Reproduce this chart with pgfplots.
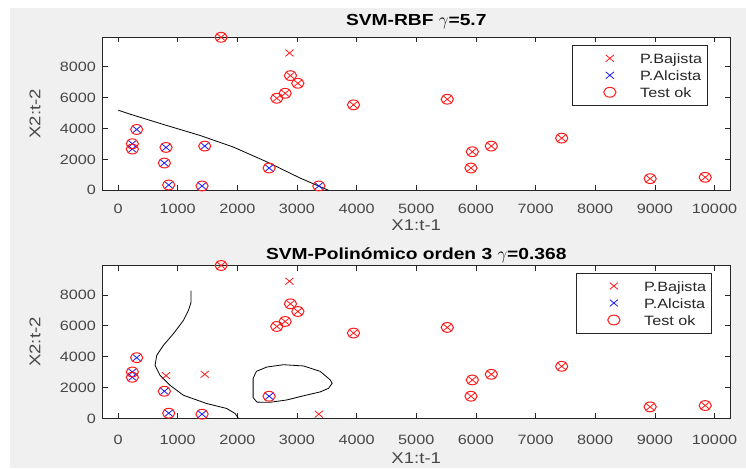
\documentclass[border=0pt]{standalone}
\usepackage{pgfplots}
\pgfplotsset{compat=1.18}
\usepackage{pgfplotstable}
\usepackage{fontspec}
\setmainfont{Liberation Sans}[FakeStretch=1.2]
\definecolor{bg}{HTML}{F0F0F0}
\definecolor{axc}{HTML}{262626}
\definecolor{mred}{HTML}{FF1A1A}
\definecolor{mblue}{HTML}{1A1AFF}

\pgfplotstableread{
x y
1728 9900
2874 8884
2891 7419
3015 6923
2802 6277
2662 5955
3948 5529
5520 5892
7438 3376
6258 2860
5940 2495
5917 1441
8921 753
9844 839
}\redcommon
\pgfplotstableread{
x y
805 2774
1454 2860
3367 280
}\switch
\pgfplotstableread{
x y
313 3935
240 3011
240 2667
777 1763
850 344
1409 280
2533 1441
}\bluecommon
\pgfplotstableread{
x y
1728 9900
2891 7419
3015 6923
2802 6277
2662 5955
3948 5529
5520 5892
7438 3376
6258 2860
5940 2495
5917 1441
8921 753
9844 839
313 3935
240 3011
240 2667
777 1763
850 344
1409 280
2533 1441
}\okcommon

\pgfplotsset{
  myaxis/.style={
    scale only axis, width=627.5pt, height=153pt,
    xmin=-260, xmax=10260, ymin=0, ymax=9900,
    xtick={0,1000,...,10000}, ytick={0,2000,...,8000},
    scaled x ticks=false, scaled y ticks=false,
    /pgf/number format/1000 sep={},
    /pgf/number format/assume math mode=true,
    tick align=inside, major tick length=5pt,
    axis line style={draw=axc, line width=0.6pt},
    every tick/.style={draw=axc, line width=0.6pt},
    axis background/.style={fill=white},
    tick label style={font=\fontsize{13.5}{15}\selectfont, text=axc!85},
    xticklabel style={anchor=center, yshift=-19pt},
    yticklabel style={anchor=east, xshift=-3pt},
    every axis y label/.style={at={(rel axis cs:0,0.5)}, xshift=-67.5pt, rotate=90, anchor=center, font=\fontsize{15.5}{17}\selectfont, text=axc!85},
    title style={at={(rel axis cs:0.5,1)}, anchor=center, font=\bfseries\fontsize{16}{18}\selectfont},
    clip=false,
    legend cell align=left,
    legend image code/.code={\path (0pt,0pt) (62pt,0pt); \draw[##1] plot coordinates {(34pt,0pt)};},
    legend style={draw=axc, line width=0.6pt, fill=white, font=\fontsize{13.5}{15}\selectfont, text=axc,
      inner xsep=3pt, inner ysep=6.5pt, row sep=4pt, anchor=north east, outer sep=0pt,
      nodes={text height=12pt, text depth=1pt, inner ysep=0pt},
      /tikz/every even column/.append style={column sep=0pt}},
    redx/.style={only marks, mark=x, mark size=4.8pt, mark options={xscale=1.2, draw=mred, line width=0.8pt}, draw=mred},
    bluex/.style={only marks, mark=x, mark size=4.8pt, mark options={xscale=1.2, draw=mblue, line width=0.8pt}, draw=mblue},
    okc/.style={only marks, mark=o, mark size=4.9pt, mark options={xscale=1.25, draw=mred, line width=1pt}, draw=mred},
    bnd/.style={black, line width=0.8pt, forget plot},
  }
}

\begin{document}
\begin{tikzpicture}[x=1pt,y=1pt]
\useasboundingbox (0,0) rectangle (746,470);
\fill[white] (0,0) rectangle (746,470);
\fill[bg] (10,2) rectangle (746,462);

% Top axis
\begin{axis}[myaxis, at={(102.5pt,279.7pt)}, anchor=south west,
  title={SVM-RBF $\gamma$=5.7}, title style={yshift=10pt},
  xlabel={X1:t-1}, ylabel={X2:t-2},
  every axis x label/.style={at={(rel axis cs:0.5,0)}, anchor=center, yshift=-35pt, font=\fontsize{15.5}{17}\selectfont, text=axc!85},
  legend style={at={(rel axis cs:1,1)}, xshift=-23pt, yshift=-8pt}]
\addplot[redx] table {\redcommon};
\addlegendentry{P.Bajista}
\addplot[bluex] table {\bluecommon};
\addlegendentry{P.Alcista}
\addplot[okc] table {\okcommon};
\addlegendentry{Test ok}
\addplot[bluex, forget plot] table {\switch};
\addplot[okc, forget plot] table {\switch};
\addplot[bnd] coordinates {(5,5180) (257,4860) (817,4194) (1376,3548) (1935,2796) (2495,1840) (3054,790) (3300,380) (3529,0)};
\end{axis}

% Bottom axis
\begin{axis}[myaxis, at={(102.5pt,51.5pt)}, anchor=south west,
  title={SVM-Polinómico orden 3 $\gamma$=0.368}, title style={yshift=4pt},
  xlabel={X1:t-1}, ylabel={X2:t-2},
  every axis x label/.style={at={(rel axis cs:0.5,0)}, anchor=center, yshift=-39.5pt, font=\fontsize{15.5}{17}\selectfont, text=axc!85},
  xticklabel style={yshift=-2pt},
  legend style={at={(rel axis cs:1,1)}, xshift=-19pt, yshift=-7.5pt}]
\addplot[redx] table {\redcommon};
\addlegendentry{P.Bajista}
\addplot[bluex] table {\bluecommon};
\addlegendentry{P.Alcista}
\addplot[okc] table {\okcommon};
\addlegendentry{Test ok}
\addplot[redx, forget plot] table {\switch};
\addplot[bnd] coordinates {(1225,8277) (1225,7523) (1180,6987) (1096,6342) (928,5484) (760,4729) (649,4084) (621,3439) (705,2794) (872,2148) (1096,1503) (1488,968) (1824,645) (1963,323) (2019,0)};
\addplot[bnd] coordinates {(2265,2600) (2320,3050) (2495,3330) (2774,3480) (3110,3400) (3389,3050) (3557,2500) (3590,2280) (3529,1950) (3389,1720) (3110,1470) (2830,1200) (2550,1050) (2330,1060) (2265,1350) (2265,2600)};
\end{axis}
\end{tikzpicture}
\end{document}
